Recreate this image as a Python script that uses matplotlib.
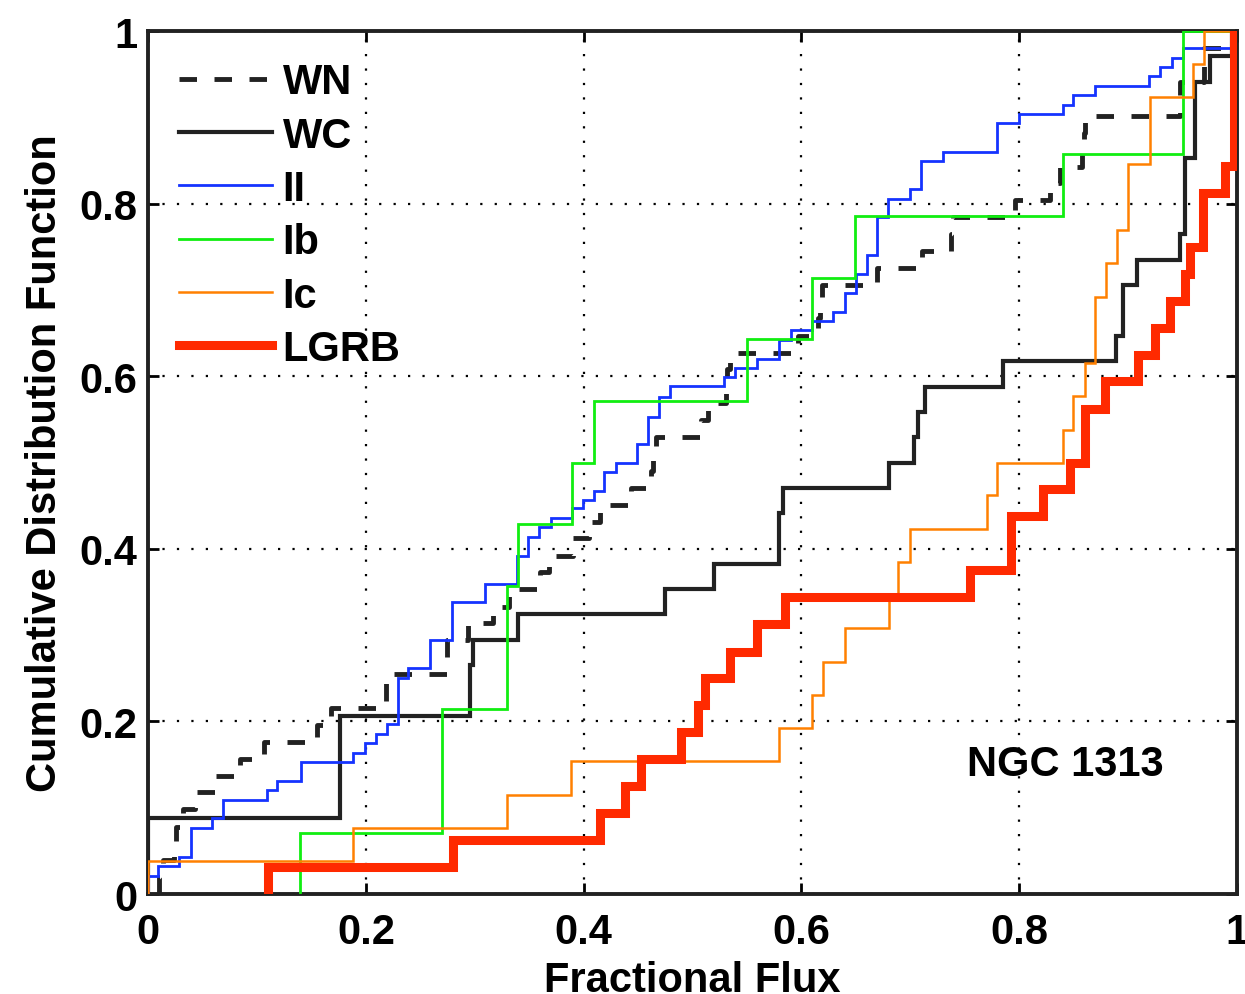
import matplotlib
matplotlib.use("Agg")
import matplotlib.pyplot as plt

# step positions (fractional flux) and CDF levels
wn_x = [0.010, 0.014, 0.024, 0.026, 0.032, 0.043, 0.061, 0.084, 0.106, 0.155,
        0.168, 0.218, 0.274, 0.294, 0.317, 0.331, 0.360, 0.368, 0.390, 0.405,
        0.415, 0.443, 0.462, 0.464, 0.466, 0.508, 0.514, 0.531, 0.532, 0.534,
        0.597, 0.615, 0.617, 0.619, 0.669, 0.711, 0.737, 0.739, 0.796, 0.828,
        0.837, 0.858, 0.859, 0.860, 0.948, 0.970, 0.995]
wn_y = [0.020, 0.039, 0.059, 0.078, 0.098, 0.118, 0.137, 0.157, 0.176, 0.196,
        0.216, 0.255, 0.294, 0.314, 0.333, 0.353, 0.373, 0.392, 0.412, 0.431,
        0.451, 0.471, 0.490, 0.510, 0.529, 0.549, 0.569, 0.588, 0.608, 0.627,
        0.647, 0.667, 0.686, 0.706, 0.725, 0.745, 0.765, 0.784, 0.804, 0.824,
        0.843, 0.863, 0.882, 0.902, 0.941, 0.980, 1.000]

wc_x = [0.0, 0.176, 0.296, 0.298, 0.340, 0.475, 0.520, 0.579, 0.583, 0.680,
        0.703, 0.707, 0.713, 0.785, 0.889, 0.895, 0.908, 0.948, 0.952, 0.961,
        0.975, 0.995]
wc_y = [0.088, 0.206, 0.265, 0.294, 0.324, 0.353, 0.382, 0.441, 0.471, 0.500,
        0.529, 0.559, 0.588, 0.618, 0.647, 0.706, 0.735, 0.765, 0.853, 0.941,
        0.971, 1.000]

ii_x = [0.0, 0.009, 0.028, 0.039, 0.059, 0.069, 0.109, 0.118, 0.140, 0.188,
        0.199, 0.209, 0.219, 0.229, 0.239, 0.259, 0.279, 0.309, 0.339, 0.349,
        0.359, 0.370, 0.389, 0.399, 0.409, 0.419, 0.430, 0.449, 0.459, 0.469,
        0.479, 0.529, 0.539, 0.559, 0.579, 0.590, 0.610, 0.629, 0.640, 0.650,
        0.660, 0.669, 0.679, 0.700, 0.710, 0.730, 0.780, 0.800, 0.840, 0.849,
        0.870, 0.919, 0.929, 0.940, 0.950]
ii_y = [0.021, 0.032, 0.043, 0.076, 0.088, 0.109, 0.120, 0.131, 0.153, 0.163,
        0.175, 0.185, 0.197, 0.250, 0.262, 0.294, 0.338, 0.359, 0.392, 0.414,
        0.425, 0.436, 0.447, 0.457, 0.467, 0.489, 0.500, 0.522, 0.553, 0.576,
        0.589, 0.599, 0.609, 0.620, 0.642, 0.653, 0.664, 0.675, 0.697, 0.718,
        0.740, 0.784, 0.805, 0.817, 0.849, 0.860, 0.893, 0.904, 0.914, 0.926,
        0.936, 0.948, 0.958, 0.969, 0.980]

ib_x = [0.139, 0.270, 0.330, 0.340, 0.389, 0.409, 0.550, 0.610, 0.649, 0.840, 0.950]
ib_y = [0.071, 0.214, 0.357, 0.429, 0.500, 0.571, 0.643, 0.714, 0.786, 0.857, 1.000]

ic_x = [0.0, 0.188, 0.330, 0.388, 0.579, 0.610, 0.620, 0.640, 0.680, 0.689,
        0.700, 0.770, 0.780, 0.840, 0.849, 0.860, 0.870, 0.880, 0.890, 0.900,
        0.920, 0.960, 0.970]
ic_y = [0.038, 0.077, 0.115, 0.154, 0.192, 0.231, 0.269, 0.308, 0.346, 0.385,
        0.423, 0.462, 0.500, 0.538, 0.577, 0.615, 0.692, 0.731, 0.769, 0.846,
        0.923, 0.962, 1.000]

lgrb_x = [0.110, 0.280, 0.415, 0.438, 0.453, 0.489, 0.505, 0.511, 0.534, 0.559,
          0.585, 0.755, 0.792, 0.822, 0.847, 0.860, 0.879, 0.909, 0.925, 0.938,
          0.952, 0.957, 0.969, 0.989, 0.997]
lgrb_y = [0.031, 0.0625, 0.094, 0.125, 0.156, 0.1875, 0.219, 0.250, 0.281, 0.3125,
          0.344, 0.375, 0.4375, 0.469, 0.500, 0.5625, 0.594, 0.625, 0.656, 0.6875,
          0.719, 0.750, 0.8125, 0.844, 1.000]

ticks = [0, 0.2, 0.4, 0.6, 0.8, 1]
tick_labels = ["0", "0.2", "0.4", "0.6", "0.8", "1"]


def cdf_xy(xs, ys):
    # start from zero at the first point, run out to x = 1
    return [xs[0]] + list(xs) + [1.0], [0.0] + list(ys) + [ys[-1]]


def main():
    plt.rcParams["font.family"] = ["Liberation Sans", "DejaVu Sans"]
    plt.rcParams["font.weight"] = "bold"

    fig = plt.figure(figsize=(12.45, 9.95), dpi=100)
    ax = fig.add_axes([0.119, 0.1005, 0.8746, 0.8673])

    series = [
        (wn_x, wn_y, "WN", dict(color="#222222", lw=3.5, dashes=(3.6, 3.6))),
        (wc_x, wc_y, "WC", dict(color="#222222", lw=3.0)),
        (ii_x, ii_y, "II", dict(color="#1533ff", lw=2.0)),
        (ib_x, ib_y, "Ib", dict(color="#11ee11", lw=2.0)),
        (ic_x, ic_y, "Ic", dict(color="#ff8000", lw=1.8)),
        (lgrb_x, lgrb_y, "LGRB", dict(color="#ff2a00", lw=6.5)),
    ]
    for i, (xs, ys, name, style) in enumerate(series):
        px, py = cdf_xy(xs, ys)
        ax.plot(px, py, drawstyle="steps-post", label=name, zorder=3 + i,
                solid_joinstyle="miter", **style)

    ax.set_xlim(0, 1)
    ax.set_ylim(0, 1)
    ax.set_xticks(ticks)
    ax.set_yticks(ticks)
    ax.set_xticklabels(tick_labels)
    ax.set_yticklabels(tick_labels)
    ax.tick_params(direction="in", length=8, width=2, top=True, right=True,
                   labelsize=30)
    ax.tick_params(axis="x", pad=13)
    ax.tick_params(axis="y", pad=8)
    ax.grid(True, color="k", ls=(0, (1, 5.5)), lw=1.6)
    for sp in ax.spines.values():
        sp.set_linewidth(2.8)
        sp.set_color("#222222")

    ax.set_xlabel("Fractional Flux", fontsize=30, fontweight="bold", labelpad=6)
    ax.set_ylabel("Cumulative Distribution Function", fontsize=30,
                  fontweight="bold", labelpad=10)

    ax.text(0.842, 0.151, "NGC 1313", fontsize=30, fontweight="bold",
            ha="center", va="center", transform=ax.transAxes)

    ax.legend(loc="upper left", frameon=False, handlelength=2.23,
              handletextpad=0.25, labelspacing=0.32, borderaxespad=0.35,
              prop=dict(weight="bold", size=30))

    fig.savefig("out.png", dpi=100)


if __name__ == "__main__":
    main()
